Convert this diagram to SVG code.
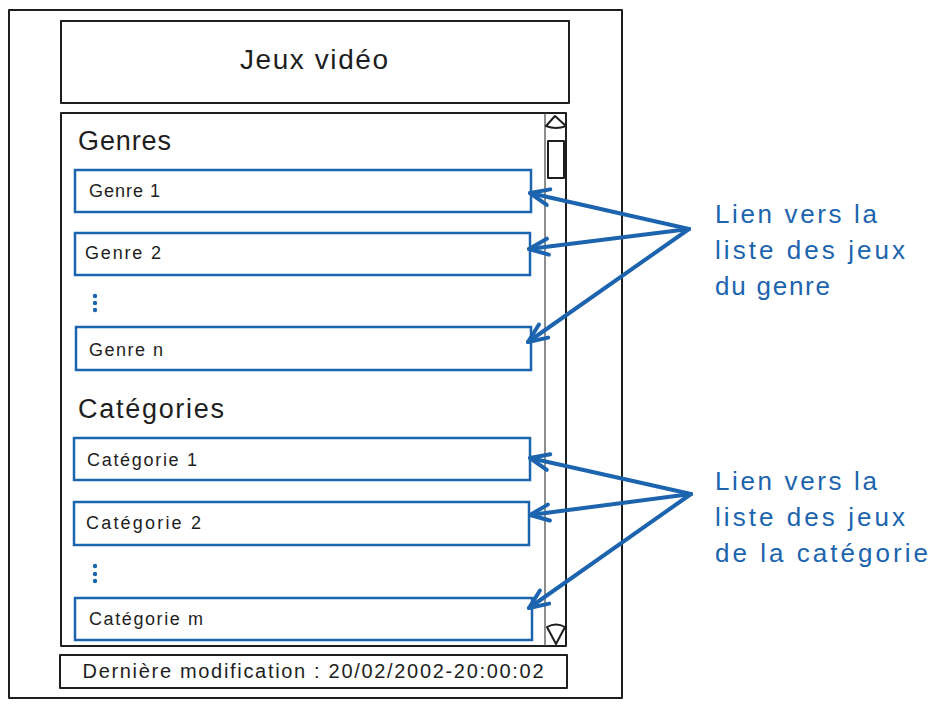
<svg xmlns="http://www.w3.org/2000/svg" width="939" height="705" viewBox="0 0 939 705">
<style>
.frame{fill:none;stroke:#1e1e1e;stroke-width:2;stroke-linejoin:round}
.thin{fill:none;stroke:#444;stroke-width:1.2}
.item{fill:#fff;stroke:#1c64ae;stroke-width:2.5}
.t{font-family:"Liberation Sans",sans-serif;fill:#1e1e1e}
.note{font-family:"Liberation Sans",sans-serif;fill:#1c64ae;font-size:26px}
.conn{stroke:#1c64ae;stroke-width:4;stroke-linecap:round;fill:none}
.dot{fill:#1c64ae}
</style>
<defs>
<marker id="ah" viewBox="-26 -14 30 28" refX="0" refY="0" markerWidth="30" markerHeight="28" markerUnits="userSpaceOnUse" orient="auto">
<path d="M0,0 L-19,-8 M0,0 L-19,8" stroke="#1c64ae" stroke-width="4" stroke-linecap="round" fill="none"/>
</marker>
</defs>
<rect width="939" height="705" fill="#fff"/>
<g id="outer-frame">
<rect class="frame" x="9" y="10" width="613" height="688"/>
</g>
<g id="title">
<rect class="frame" x="61" y="21" width="508" height="82"/>
<text class="t" x="314" y="69" font-size="28" text-anchor="middle" textLength="148" lengthAdjust="spacing">Jeux vidéo</text>
</g>
<g id="panel">
<rect class="frame" x="61" y="113" width="505" height="533"/>
<line class="thin" x1="545" y1="113" x2="545" y2="646"/>
<path class="frame" d="M555,116 L546,126 Q556,130 566,126 Z" stroke-width="1.5"/>
<rect class="frame" x="548" y="141" width="16" height="37" stroke-width="1.5"/>
<path class="frame" d="M547,627 Q556,622 565,627 L556,644 Z" stroke-width="1.5"/>
</g>
<g id="genres-heading">
<text class="t" x="78" y="150" font-size="27" textLength="93" lengthAdjust="spacing">Genres</text>
</g>
<g id="genre-1">
<rect class="item" x="75" y="170" width="456" height="42"/>
<text class="t" x="89" y="197" font-size="18" textLength="71" lengthAdjust="spacing">Genre 1</text>
</g>
<g id="genre-2">
<rect class="item" x="75" y="233" width="455" height="42"/>
<text class="t" x="85" y="259" font-size="18" textLength="76" lengthAdjust="spacing">Genre 2</text>
</g>
<g id="genre-dots">
<circle class="dot" cx="95" cy="296" r="2.2"/>
<circle class="dot" cx="95" cy="303" r="2.2"/>
<circle class="dot" cx="95" cy="310" r="2.2"/>
</g>
<g id="genre-n">
<rect class="item" x="76" y="327" width="455" height="43"/>
<text class="t" x="89" y="356" font-size="18" textLength="74" lengthAdjust="spacing">Genre n</text>
</g>
<g id="categories-heading">
<text class="t" x="78" y="418" font-size="27" textLength="146" lengthAdjust="spacing">Catégories</text>
</g>
<g id="categorie-1">
<rect class="item" x="74" y="438" width="456" height="42"/>
<text class="t" x="87" y="466" font-size="18" textLength="110" lengthAdjust="spacing">Catégorie 1</text>
</g>
<g id="categorie-2">
<rect class="item" x="74" y="502" width="455" height="43"/>
<text class="t" x="86" y="529" font-size="18" textLength="115" lengthAdjust="spacing">Catégorie 2</text>
</g>
<g id="categorie-dots">
<circle class="dot" cx="95" cy="566" r="2.2"/>
<circle class="dot" cx="95" cy="574" r="2.2"/>
<circle class="dot" cx="95" cy="581" r="2.2"/>
</g>
<g id="categorie-m">
<rect class="item" x="75" y="598" width="457" height="42"/>
<text class="t" x="89" y="625" font-size="18" textLength="114" lengthAdjust="spacing">Catégorie m</text>
</g>
<g id="footer">
<rect class="frame" x="60" y="655" width="507" height="33"/>
<text class="t" x="313" y="678" font-size="20" text-anchor="middle" textLength="461" lengthAdjust="spacing">Dernière modification : 20/02/2002-20:00:02</text>
</g>
<g id="note-genre">
<text class="note"><tspan x="715" y="223" textLength="162" lengthAdjust="spacing">Lien vers la</tspan><tspan x="715" y="259" textLength="190" lengthAdjust="spacing">liste des jeux</tspan><tspan x="715" y="295" textLength="115" lengthAdjust="spacing">du genre</tspan></text>
</g>
<g id="note-categorie">
<text class="note"><tspan x="715" y="490" textLength="162" lengthAdjust="spacing">Lien vers la</tspan><tspan x="715" y="526" textLength="190" lengthAdjust="spacing">liste des jeux</tspan><tspan x="715" y="562" textLength="213" lengthAdjust="spacing">de la catégorie</tspan></text>
</g>
<g id="connectors">
<line class="conn" x1="689" y1="229" x2="530" y2="193" marker-end="url(#ah)"/>
<line class="conn" x1="689" y1="229" x2="529" y2="249" marker-end="url(#ah)"/>
<line class="conn" x1="689" y1="229" x2="528" y2="342" marker-end="url(#ah)"/>
<line class="conn" x1="691" y1="494" x2="530" y2="458" marker-end="url(#ah)"/>
<line class="conn" x1="691" y1="494" x2="530" y2="515" marker-end="url(#ah)"/>
<line class="conn" x1="691" y1="494" x2="529" y2="608" marker-end="url(#ah)"/>
</g>
</svg>
